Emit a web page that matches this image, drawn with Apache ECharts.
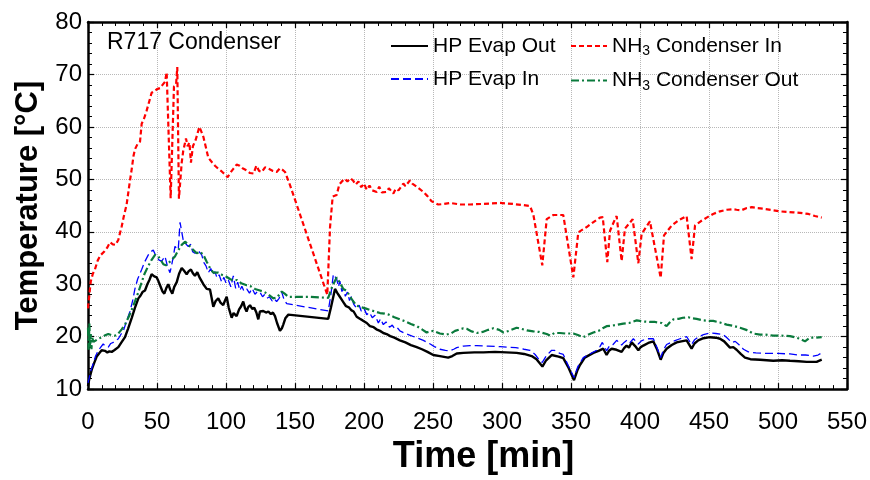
<!DOCTYPE html>
<html>
<head>
<meta charset="utf-8">
<script src="https://cdn.jsdelivr.net/npm/echarts@6/dist/echarts.min.js"></script>
<style>
  html, body { margin: 0; padding: 0; background: #fff; }
  #chart { width: 870px; height: 480px; }
</style>
</head>
<body>
<div id="chart"></div>
<script>
// Time axis ticks [min] and temperature axis ticks [°C]
const timeTicks = [0, 50, 100, 150, 200, 250, 300, 350, 400, 450, 500, 550];
const tempTicks = [10, 20, 30, 40, 50, 60, 70, 80];

const chartTitle = 'R717 Condenser';
const seriesNames = ['HP Evap Out', 'HP Evap In', 'NH3 Condenser In', 'NH3 Condenser Out'];

// [time min, temperature °C]
const hpEvapOut = [[0,10.6],[1,12],[2.7,13.7],[4.5,15],[6.3,16.2],[8,16.8],[9.9,17.4],[11,17.1],[12.3,17.3],[14,17.0],[15.5,17.2],[17.2,17.1],[19,17.4],[22,18],[24,18.8],[26.8,19.9],[29,21.5],[31.7,23.6],[34,25.5],[36.5,27.3],[38,27.8],[39.5,28.5],[41.3,28.8],[43,30],[44.5,30.8],[46.1,31.9],[48,31.5],[49.8,31.3],[51,30.6],[52.2,29.8],[54,28.6],[55.3,28.2],[56.8,29.3],[58.2,30],[59.5,29],[61.1,28.2],[62.5,29.5],[64.3,30.4],[66,32],[67.9,33.1],[69.5,32.6],[71.5,31.9],[73,32.5],[74.6,32.8],[76,32.1],[77.5,31.6],[79.2,32.3],[81,31.2],[83.6,30],[86,29.1],[88.4,29],[89.5,27.5],[90.8,25.7],[92.5,26.8],[94.4,27.3],[96,26.5],[98,26],[99.3,26.9],[100.5,27.6],[102,25.5],[104.1,23.6],[105.5,24.5],[107.7,23.9],[109.5,25.2],[111,25.8],[112.5,26.7],[113.8,25.4],[114.9,24.8],[116,25.6],[117.4,26],[119,25.3],[120.5,25.5],[122,24.6],[123.4,23.3],[124.6,24.8],[127,24.9],[129,24.6],[130.7,24.8],[132.5,24.3],[134,24.6],[135.5,23.9],[137,22.6],[139.1,21.1],[140.5,21.6],[141.5,22.3],[143,23.5],[145.2,24.2],[174.1,23.4],[176,25.5],[179,29.1],[180.5,28.4],[182,27.8],[183.5,27.2],[185,26.6],[187,25.8],[189,25.6],[191,25],[192.5,24.8],[194.7,23.8],[197,23.4],[199,23.1],[202,22.6],[204.3,22],[207,21.8],[209,21.4],[211.6,21.1],[214,20.7],[216.4,20.5],[219,20.1],[222,19.8],[226,19.3],[230,18.9],[234,18.4],[238.2,18],[242,17.6],[246,17.1],[250.2,16.5],[255,16.3],[261,16],[264,16.3],[267.2,16.8],[272,16.9],[280,17],[286.5,17],[295,17.1],[303,17],[310.6,16.9],[316,16.7],[321.5,16.3],[325,15.7],[329.3,14.3],[332,15.5],[336,16.5],[341,16.2],[344.4,15.9],[348,14.2],[352.2,11.7],[354.5,13.5],[356.5,14.6],[360,16],[366.2,16.9],[370,17.3],[373.4,17.7],[375.8,16.5],[377.5,17.3],[379.5,17.7],[383,17.5],[386.7,17.1],[388.5,17.8],[390.3,18.3],[392,17.9],[394,18.9],[396.5,18.2],[398.8,17.4],[400.5,18],[402.4,18.3],[406,18.8],[409.7,19.1],[412.5,17.5],[415,15.6],[417,16.9],[419.3,17.7],[423,18.4],[426.6,18.9],[430,19.1],[433.8,19.3],[437.4,17.7],[439.5,18.7],[442.2,19.3],[446,19.7],[450.7,19.9],[455,19.8],[458,19.6],[461,19.1],[465.2,17.9],[467.6,18],[470,17.5],[473,16.7],[476.1,16],[480,15.7],[487,15.6],[496.6,15.4],[503,15.5],[508.7,15.4],[515,15.3],[520.8,15.2],[528,15.2],[531.7,15.6]];

const hpEvapIn = [[0,11.2],[2,13.4],[3.8,14.9],[5.5,16.3],[7.5,17.4],[9,17.9],[11,18.6],[12.5,18.2],[14.7,18],[16.5,18.7],[18.3,18.9],[20,19.2],[22,19.6],[24,20.5],[25.6,21.1],[28,23],[30.4,24.8],[32.5,27],[34,29.1],[36,31],[38.9,32.8],[41,34.2],[43.7,35.6],[45.5,36.2],[47.3,36.5],[48.5,35.8],[49.8,35.6],[51.5,34.6],[53.4,34.4],[55.8,35.3],[57.5,33.5],[59.4,32.2],[60.5,33.5],[62,35.5],[63,37.2],[65.4,36.6],[66.7,41.8],[67.4,42],[69,38.4],[70.5,37.8],[72.7,37.2],[74.5,37.6],[75.8,36.2],[77.5,35.9],[79.5,36.5],[82.4,35.6],[84,34.1],[85.5,33.5],[87.2,32.2],[89,33],[90.5,31.8],[92,32.4],[93.5,31.2],[95,31.8],[96.9,30.4],[98.5,31.3],[100,30.2],[101.7,30.8],[103.5,29.5],[105.3,31.6],[107,29.2],[108.5,30.4],[110,28.8],[111.5,29.6],[113,28.7],[115,29.1],[117,28.3],[119,29.2],[121,28.1],[122.8,28.6],[124.6,28.5],[126.5,27.6],[127.8,28],[129.5,27.3],[131.5,27.6],[133.5,26.8],[135,27.2],[136.7,26.7],[138.5,27.3],[140.4,28.5],[142,27.1],[144,26.3],[145,26.1],[174.1,24.9],[176,28],[177.8,31.9],[178.5,32.2],[180.2,31],[181.5,29.5],[182.5,30.6],[184,28.6],[185,29.1],[186.5,27.7],[188,28.5],[189.5,26.9],[191,27.7],[192.5,26.2],[194.7,25.4],[196.5,26],[198,24.9],[200,25.4],[202,24.2],[204,24.6],[206,23.6],[208,24.1],[210.4,22.6],[212,23.4],[214,22.3],[216,22.8],[218.5,21.8],[220.5,22.2],[222.5,21.4],[224.5,21.6],[226,21.1],[229,20.7],[233,20.3],[238,19.8],[243,19.3],[248,18.6],[251,18.1],[255,17.6],[259,17.4],[262.3,17.3],[265,17.6],[267.2,17.9],[272,18.2],[276.8,18.3],[281.7,18.3],[290,18.2],[298.6,18.1],[303.4,18],[310,17.9],[316,17.6],[320.3,17.4],[324,16.6],[327.5,15.4],[329.2,15.1],[332,16.3],[336,17.4],[338,17.4],[342,16.8],[344.4,16.6],[348,14.5],[352.2,12.2],[355,14.3],[358.9,16],[363,16.6],[368.6,17.4],[371,18.1],[372.7,18.9],[375.8,17.3],[378,18.3],[380.5,18.5],[383.1,19.3],[386.7,18.4],[388.5,18.9],[390.5,19.3],[392.5,18.8],[395.2,19.6],[398.8,18.6],[401,19.2],[404.8,19.6],[409.7,19.6],[412.5,17.8],[415,16],[417,17.5],[419.3,18.5],[424,19.1],[429,19.6],[433.8,20],[437.4,18.5],[439.5,19.4],[442.2,19.9],[446,20.4],[450.7,20.7],[455,20.6],[460.4,20.4],[463,19.8],[466.4,18.9],[469,19.1],[472,18.4],[475,17.6],[478.5,17.1],[484,16.9],[491.8,16.8],[500,16.8],[508.7,16.7],[515,16.5],[520,16.5],[525.6,16.3],[529,16.5],[531.7,16.9]];

const nh3CondIn = [[0,25.4],[1,28],[2,30.5],[3.5,32],[5,32.8],[7,34.5],[9,35.5],[12,36.3],[14,37],[16,38],[18,37.6],[20,37.5],[22,38.5],[24.4,41],[26,43],[28,45.2],[30,49],[31.7,52],[33,54.5],[34,55.7],[36,56.8],[37.7,57.2],[38.9,60.6],[40.5,61.5],[42.5,63.1],[44,64.5],[46.1,66.5],[48,66.8],[50,67.2],[52.2,67.4],[54,68],[55.8,68.6],[57,70.4],[59.9,46.4],[62.3,67.7],[63.8,68],[64.7,71.4],[65.9,46.3],[67.9,53.2],[69,55.4],[71,57.8],[72.2,56.3],[73.5,57],[74.6,53.2],[76,56.3],[78,57.5],[80.7,60],[82,59.2],[83.6,58.1],[85.5,56],[87.2,54.1],[90,53.2],[92,52.6],[94.5,52],[96.9,51.5],[99,51],[101.2,50.4],[103,51.2],[105.3,52],[107.7,52.8],[110,52.6],[112,52.1],[115,51.7],[117.4,51.2],[120,51.1],[122,52.6],[124,51.6],[125.9,51.4],[128.3,52.3],[131,52],[134,51.6],[136.7,51.4],[139,52.1],[141,51.8],[142.8,51.4],[146.4,48.9],[173.4,28],[175.4,40.9],[177.3,46.7],[180.2,47],[182.1,49],[184,49.6],[186.2,50.1],[188,49.6],[190,50.2],[192,49.8],[194,49],[196,49.6],[198,48.5],[200,49.2],[202,48],[204,48.8],[206,47.9],[209.2,47.6],[211,48.6],[213,47.5],[216.4,47.6],[218,48.3],[221.3,47.3],[223,48.2],[225,47.9],[228.5,49.2],[230,48.7],[233.3,49.8],[235,49.2],[238.2,48.6],[243,47.6],[246,46.8],[249,45.8],[253.8,45.2],[258,45.3],[262.3,45.5],[270,45.2],[276.8,45.2],[285,45.3],[298.6,45.5],[308,45.3],[315,45.1],[320.3,44.9],[322.7,43.3],[329.2,33.6],[332.4,42.4],[337.2,43.2],[344.4,43.2],[351.7,31.3],[355.3,39.9],[361.4,40.9],[366,41.8],[371,42.7],[373,42.8],[376.3,34.2],[378.3,40.2],[381.9,42.4],[383.1,43],[386.7,34.4],[389.1,40.6],[394.7,42.4],[398.8,34],[401.2,39.6],[407.2,42],[415,31.2],[417.4,39.3],[423,41.2],[428,42.2],[433.8,43],[435,43.1],[437.4,34.8],[439.9,41.2],[444,42],[448.3,42.7],[453,43.4],[458,43.9],[463,44.2],[467.6,44.3],[470,44.2],[473.5,44.1],[477,44.5],[481,44.7],[485,44.5],[489.4,44.4],[496.6,44.1],[501,43.9],[506.3,43.8],[511,43.7],[516,43.6],[522,43.4],[526.8,43],[531.7,42.7]];

const nh3CondOut = [[0,21.7],[0.5,17.5],[1,22.5],[1.5,18],[2,20.5],[2.5,17.6],[3,19.8],[4,19],[5,19.3],[7,19.5],[9.9,19.9],[12,20.2],[14.7,20.5],[17,20.3],[19.6,20.2],[22,20.6],[24.4,21.4],[27,22.4],[29.2,23.6],[31.5,25],[34,26.7],[36.5,28.5],[38.9,30.4],[41,32],[43.7,33.5],[46,34.6],[48.6,35.6],[51,35.3],[53,34.5],[54.6,33.8],[56.5,33.6],[58.2,34],[60.5,34.6],[63,35.3],[65.5,36.5],[67.9,37.5],[70.3,38.1],[72,37.8],[73.9,37.2],[76,36.6],[78.8,35.9],[81.2,36.2],[83.6,35.6],[86,34.3],[88.4,33.1],[90.8,32.2],[94.4,32.2],[97,31.8],[99.3,31.6],[102.9,31],[105.3,30.7],[108,30.8],[111,30.2],[115,29.8],[118,29.6],[121,29.1],[124.6,28.8],[127,28.6],[130,28.2],[134.3,27.3],[137,27.5],[140.4,28.6],[142.5,28.2],[145.2,27.6],[160,27.6],[174.1,27.4],[177,29.6],[180.2,31.3],[182.5,30.3],[185,29.1],[187.5,28.7],[190,27.6],[192,26.8],[194.7,25.9],[198,25.6],[201,25.4],[204.3,25.1],[208,24.8],[211.6,24.5],[215,24.4],[218,24.2],[222,23.7],[226,23.3],[230,22.9],[234,22.4],[238.2,22],[242,21.4],[245.4,20.8],[248,21],[250.2,21.1],[255,20.6],[259.9,20.4],[263,20.6],[266,21.1],[269.6,21.4],[272,21.6],[274.4,21.5],[278,21],[281.7,20.7],[286,20.9],[290,21.3],[293.7,21.6],[298,21.3],[301,20.8],[305,21.1],[310.6,21.7],[314,21.5],[318,21.2],[322.7,21],[327,20.9],[332.4,20.5],[334.8,20.2],[338,20.7],[342,20.7],[346,20.6],[351.7,20.6],[355,20.3],[358.9,19.9],[362,20.3],[366.2,20.8],[370,21.1],[373,21.6],[375.8,22],[380,22.1],[384,22.3],[387.9,22.5],[392,22.6],[397.6,23.1],[402,22.9],[407.2,22.8],[411,22.8],[415.7,22.6],[419.3,22],[421.5,22.7],[424.2,23.3],[428,23.4],[431,23.6],[435,23.7],[438,23.5],[441,23.4],[445.9,23.1],[450,23],[453.1,23],[458,22.7],[462.8,22.3],[467,22.1],[472.5,21.7],[477,21.3],[482.1,20.6],[487,20.4],[491,20.4],[496.6,20.2],[502,20.2],[508.7,20.1],[512,19.9],[516,19.6],[519.6,19.1],[523.2,19.8],[527,19.8],[531.7,19.9]];

const FONT = '"Liberation Sans", Arial, Helvetica, sans-serif';
const chart = echarts.init(document.getElementById('chart'), null, { renderer: 'canvas' });

const tMin = timeTicks[0], tMax = timeTicks[timeTicks.length - 1];
const tStep = timeTicks[1] - timeTicks[0];
const yMin = tempTicks[0], yMax = tempTicks[tempTicks.length - 1];
const yStep = tempTicks[1] - tempTicks[0];

const frameLine = { show: true, onZero: false, lineStyle: { color: '#000', width: 2.5 } };
const tickIn = { show: true, inside: true, length: 6, lineStyle: { color: '#000', width: 1.2 } };
const minorIn = { show: true, splitNumber: 5, length: 4, lineStyle: { color: '#000', width: 1 } };
const gridLine = { show: true, lineStyle: { color: '#b8b8b8', type: 'dotted', width: 1 } };

// NH3 shown with subscript 3
const legendFormatter = name => name.replace('NH3', 'NH{sub|3}');
const legendText = {
  fontFamily: FONT, fontSize: 21, color: '#000', lineHeight: 22,
  rich: { sub: { fontFamily: FONT, fontSize: 14, color: '#000', padding: [11, 0, 0, 0] } }
};
// legend keys show only the line sample
const legendCommon = {
  orient: 'vertical', top: 35, itemHeight: 14, itemGap: 11, padding: 0,
  formatter: legendFormatter, textStyle: legendText, selectedMode: false,
  itemStyle: { opacity: 0 }
};

function lineSeries(name, data, color, width, type) {
  return {
    name, type: 'line', data, symbol: 'none', animation: false,
    lineStyle: { color, width, type },
    itemStyle: { color },
    z: 3
  };
}

chart.setOption({
  animation: false,
  backgroundColor: '#fff',
  title: {
    text: chartTitle, left: 107, top: 31, padding: 0,
    textStyle: { fontFamily: FONT, fontSize: 23, fontWeight: 'normal', color: '#000' }
  },
  legend: [
    Object.assign({ data: [seriesNames[0], seriesNames[1]], left: 390, itemWidth: 37 }, legendCommon),
    Object.assign({ data: [seriesNames[2], seriesNames[3]], left: 570, itemWidth: 36 }, legendCommon)
  ],
  grid: { left: 88, right: 23, top: 22, bottom: 80, containLabel: false },
  xAxis: [
    {
      type: 'value', min: tMin, max: tMax, interval: tStep, position: 'bottom',
      name: 'Time [min]', nameLocation: 'middle', nameGap: 40,
      nameTextStyle: { fontFamily: FONT, fontSize: 36, fontWeight: 'bold', color: '#000', padding: [0, 0, 0, 32] },
      axisLine: frameLine, axisTick: tickIn, minorTick: minorIn,
      splitLine: gridLine,
      axisLabel: { fontFamily: FONT, fontSize: 24, color: '#000', margin: 21 }
    },
    {
      type: 'value', min: tMin, max: tMax, interval: tStep, position: 'top',
      axisLine: frameLine, axisTick: tickIn, minorTick: minorIn,
      splitLine: { show: false }, axisLabel: { show: false }
    }
  ],
  yAxis: [
    {
      type: 'value', min: yMin, max: yMax, interval: yStep, position: 'left',
      name: 'Temperature [°C]', nameLocation: 'middle', nameGap: 41,
      nameTextStyle: { fontFamily: FONT, fontSize: 31, fontWeight: 'bold', color: '#000' },
      axisLine: frameLine, axisTick: tickIn, minorTick: minorIn,
      splitLine: gridLine,
      axisLabel: { fontFamily: FONT, fontSize: 24, color: '#000', margin: 6 }
    },
    {
      type: 'value', min: yMin, max: yMax, interval: yStep, position: 'right',
      axisLine: frameLine, axisTick: tickIn, minorTick: minorIn,
      splitLine: { show: false }, axisLabel: { show: false }
    }
  ],
  series: [
    lineSeries(seriesNames[0], hpEvapOut, '#000000', 2.4, 'solid'),
    lineSeries(seriesNames[1], hpEvapIn, '#0000ff', 1.3, [8, 4]),
    lineSeries(seriesNames[2], nh3CondIn, '#ff0000', 2.2, [5, 3]),
    lineSeries(seriesNames[3], nh3CondOut, '#0a7a3c', 2.2, [8, 3, 2, 3])
  ]
});
</script>
</body>
</html>
